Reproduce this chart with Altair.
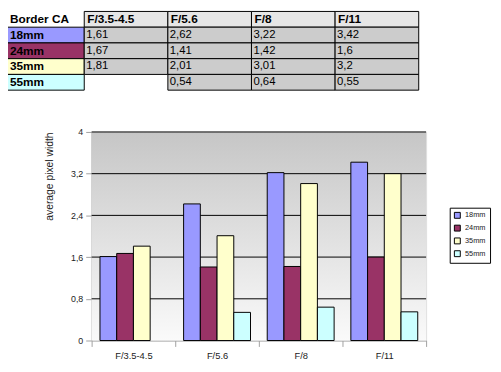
import altair as alt
import pandas as pd

# ---- data ----
apertures = ["F/3.5-4.5", "F/5.6", "F/8", "F/11"]
series = ["18mm", "24mm", "35mm", "55mm"]
v18 = [1.61, 2.62, 3.22, 3.42]
v24 = [1.67, 1.41, 1.42, 1.6]
v35 = [1.81, 2.01, 3.01, 3.2]
v55 = [None, 0.54, 0.64, 0.55]
colors = ["#9999FF", "#993366", "#FFFFCC", "#CCFFFF"]
y_ticks = [0, 0.8, 1.6, 2.4, 3.2, 4]
grid_vals = [0.8, 1.6, 2.4, 3.2, 4]
table_title = "Border CA"
y_title = "average pixel width"

FONT = "Liberation Sans"

rows = []
for s, vals in zip(series, [v18, v24, v35, v55]):
    for a, v in zip(apertures, vals):
        if v is not None:
            rows.append({"series": s, "aperture": a, "value": v,
                         "label": str(v).replace(".", ",")})
df = pd.DataFrame(rows)

fill_scale = alt.Scale(domain=series, range=colors)
legend = alt.Legend(title=None, orient="none", legendX=364, legendY=77,
                    strokeColor="black", fillColor="white", padding=4,
                    symbolType="square", symbolSize=36, symbolStrokeColor="black",
                    symbolStrokeWidth=1, labelFontSize=7.5, labelOffset=4,
                    rowPadding=2, labelColor="#222222", labelFont=FONT)

# ---- table ----
cols = ["rowhead"] + apertures
trows = ["hdr"] + series
tx_scale = alt.Scale(domain=cols, range=[-92.5, 332.5], paddingInner=0, paddingOuter=0)
ty_scale = alt.Scale(domain=trows, range=[-122.5, -42.5], paddingInner=0, paddingOuter=0)

hdr_df = pd.DataFrame({"col": apertures, "row": ["hdr"] * len(apertures), "text": apertures})
lab_df = pd.DataFrame({"col": ["rowhead"] * len(series), "row": series, "text": series, "series": series})
corner_df = pd.DataFrame({"col": ["rowhead"], "row": ["hdr"], "text": [table_title]})
val_df = pd.DataFrame({"col": df["aperture"], "row": df["series"], "text": df["label"]})

def tx(band=None):
    if band is None:
        return alt.X("col:N", scale=tx_scale, axis=None)
    return alt.X("col:N", scale=tx_scale, axis=None, bandPosition=band)

ty = alt.Y("row:N", scale=ty_scale, axis=None)

hdr_rect = alt.Chart(hdr_df).mark_rect(fill="#e6e6e6", stroke="black", strokeWidth=1).encode(x=tx(), y=ty)
lab_rect = alt.Chart(lab_df).mark_rect(stroke="black", strokeWidth=1).encode(
    x=tx(), y=ty, fill=alt.Fill("series:N", scale=fill_scale, legend=legend))
val_rect = alt.Chart(val_df).mark_rect(fill="#cccccc", stroke="black", strokeWidth=1).encode(x=tx(), y=ty)

lab_text = alt.Chart(pd.concat([corner_df, lab_df[["col", "row", "text"]]])).mark_text(
    align="left", baseline="middle", dx=9.5, font=FONT, fontSize=12, fontWeight="bold", color="black"
).encode(x=tx(0), y=ty, text="text:N")
hdr_text = alt.Chart(hdr_df).mark_text(
    align="left", baseline="middle", dx=3, font=FONT, fontSize=12, fontWeight="bold", color="black"
).encode(x=tx(0), y=ty, text="text:N")
val_text = alt.Chart(val_df).mark_text(
    align="left", baseline="middle", dx=2, font=FONT, fontSize=11.5, color="black"
).encode(x=tx(0), y=ty, text="text:N")

table = alt.layer(hdr_rect, lab_rect, val_rect, lab_text, hdr_text, val_text)

# ---- bar chart ----
y_scale = alt.Scale(domain=[0, 4], nice=False, zero=True)
y_axis = alt.Axis(values=y_ticks, labelExpr="replace(toString(datum.value), '.', ',')",
                  grid=False, domainColor="#a0a0a0", tickColor="#a0a0a0", tickSize=6,
                  labelFontSize=9, labelColor="#222222", labelPadding=3, labelFont=FONT,
                  title=y_title, titleFontSize=10.5, titleFontWeight="normal",
                  titleColor="#222222", titleFont=FONT, titleAnchor="end", titlePadding=16)
gradient = alt.LinearGradient(
    gradient="linear", x1=0, y1=0, x2=0, y2=1,
    stops=[alt.GradientStop(color="#c6c6c6", offset=0),
           alt.GradientStop(color="#fafafa", offset=1)])

bg = alt.Chart(pd.DataFrame({"lo": [0], "hi": [4]})).mark_rect(fill=gradient).encode(
    y=alt.Y("hi:Q", scale=y_scale, axis=y_axis), y2="lo:Q")

rules = alt.Chart(pd.DataFrame({"g": grid_vals})).mark_rule(color="black", strokeWidth=1).encode(
    y=alt.Y("g:Q", scale=y_scale, axis=y_axis))

bars = alt.Chart(df).mark_bar(stroke="black", strokeWidth=1, strokeOpacity=1).encode(
    x=alt.X("aperture:N", sort=apertures,
            scale=alt.Scale(domain=apertures, paddingInner=0, paddingOuter=0),
            axis=alt.Axis(title=None, labelAngle=0, tickBand="extent", domainColor="#a0a0a0",
                          tickColor="#a0a0a0", tickSize=6, labelFontSize=9.5, labelPadding=4,
                          labelColor="#222222", labelFont=FONT)),
    xOffset=alt.XOffset("series:N", scale=alt.Scale(domain=series, paddingInner=0, paddingOuter=0.5)),
    y=alt.Y("value:Q", scale=y_scale, axis=y_axis),
    fill=alt.Fill("series:N", scale=fill_scale, legend=legend),
)

plot = alt.layer(bg, rules, bars)

chart = alt.layer(table, plot).resolve_scale(x="independent", y="independent").properties(
    width=340, height=212,
    autosize=alt.AutoSizeParams(type="none"),
    padding={"left": 85, "top": 123, "right": 68, "bottom": 29},
).configure_view(stroke=None).configure(font=FONT)

chart.save("out.html", embed_options={"renderer": "svg", "actions": False})
